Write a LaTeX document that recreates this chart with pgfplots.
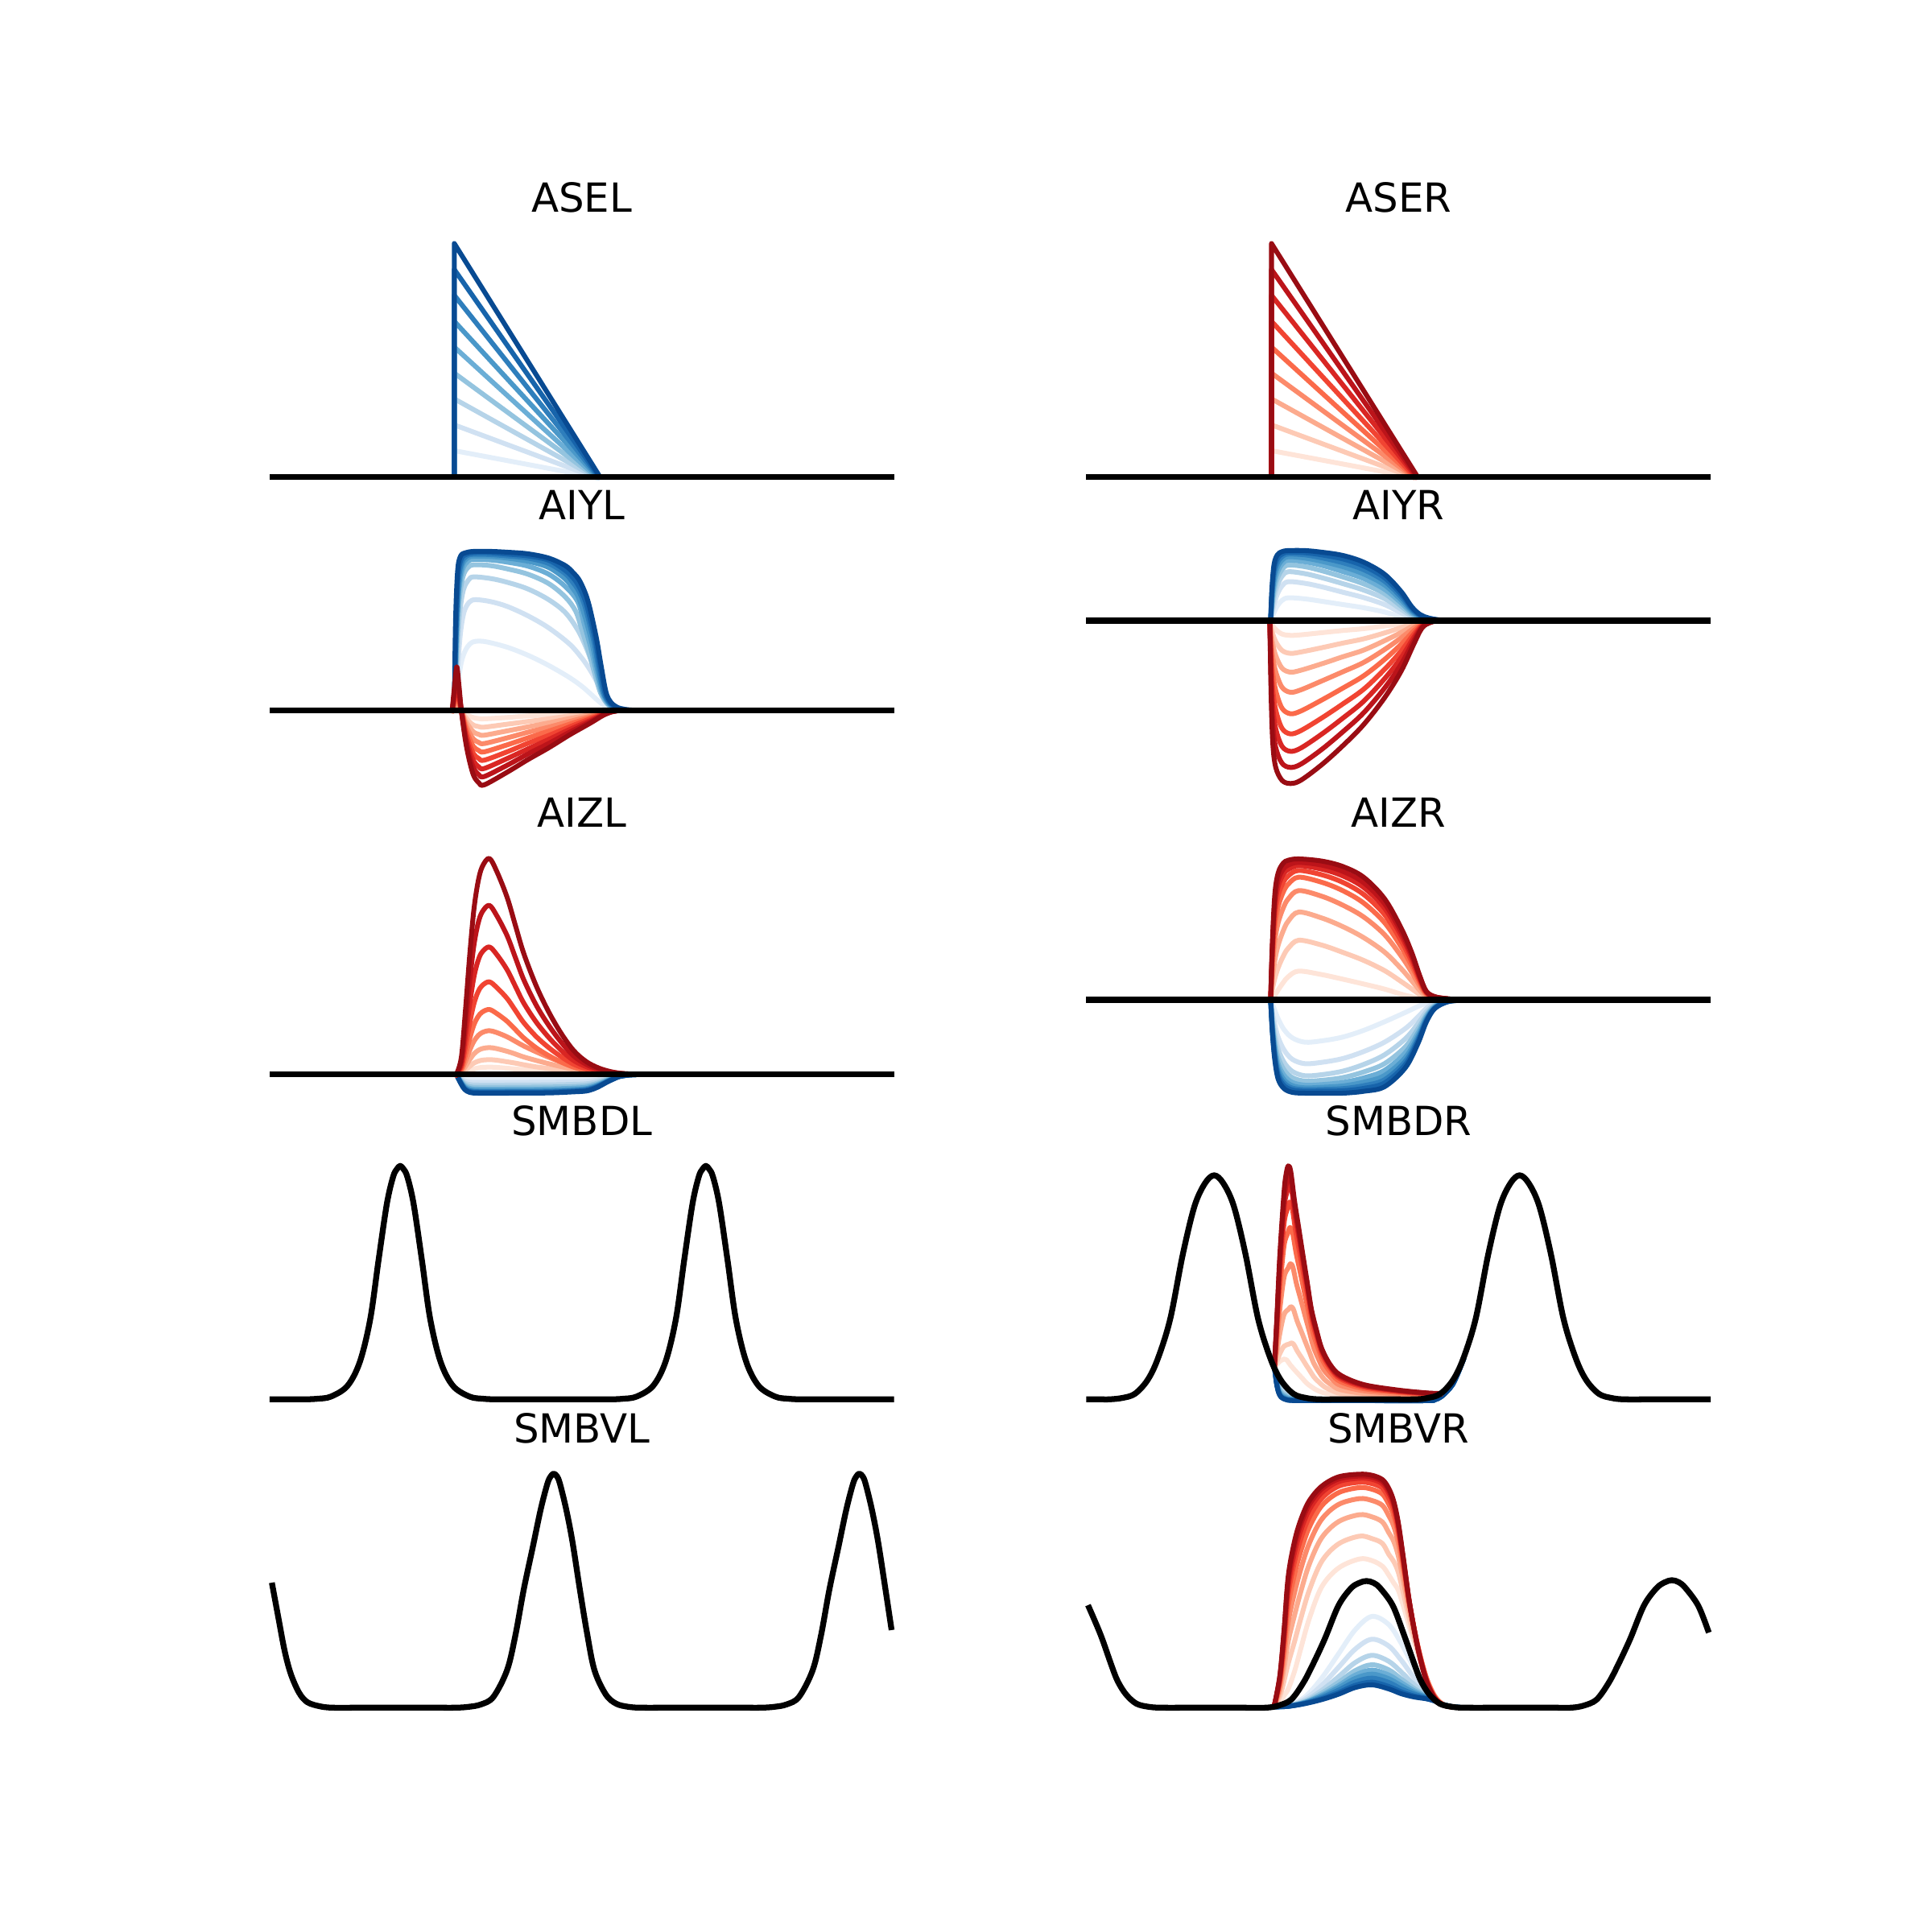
\documentclass[border=0pt]{standalone}
\usepackage{pgfplots}
\pgfplotsset{compat=1.18}
\usepackage{fontspec}
\setmainfont{DejaVu Sans}
\definecolor{B1}{RGB}{227,238,249}
\definecolor{B2}{RGB}{208,225,242}
\definecolor{B3}{RGB}{182,212,233}
\definecolor{B4}{RGB}{148,196,223}
\definecolor{B5}{RGB}{107,174,214}
\definecolor{B6}{RGB}{74,152,201}
\definecolor{B7}{RGB}{46,126,188}
\definecolor{B8}{RGB}{23,100,171}
\definecolor{B9}{RGB}{8,74,146}
\definecolor{R1}{RGB}{254,228,216}
\definecolor{R2}{RGB}{253,202,181}
\definecolor{R3}{RGB}{252,171,142}
\definecolor{R4}{RGB}{252,138,106}
\definecolor{R5}{RGB}{251,106,74}
\definecolor{R6}{RGB}{241,68,50}
\definecolor{R7}{RGB}{217,38,35}
\definecolor{R8}{RGB}{188,20,26}
\definecolor{R9}{RGB}{153,12,19}
\pgfplotsset{
  panel/.style={hide axis, scale only axis, width=203.67pt, height=76.76pt,
    anchor=south west, clip=false,
    title style={at={(0.5,1)}, anchor=base, inner sep=0pt,
      font=\fontsize{12}{14}\selectfont}},
  colL/.style={xmin=-38.7, xmax=1598},
  colR/.style={xmin=-29.7, xmax=1597},
  cl/.style={line width=1.45pt, line join=round, line cap=rect, smooth, tension=0.55},
  blk/.style={black, line width=1.75pt, line join=round, line cap=rect, smooth, tension=0.55},
}
\begin{document}
\begin{tikzpicture}
\path[use as bounding box] (0,0) rectangle (578.16pt,578.16pt);

%================ ASEL
\begin{axis}[panel,colL,at={(72.27pt,432.02pt)},ymin=-43.4,ymax=912.5,title={ASEL}]
\addplot[cl,sharp plot,B1] coordinates {(473,0)(473,97)(806,0)};
\addplot[cl,sharp plot,B2] coordinates {(473,0)(473,193)(808,0)};
\addplot[cl,sharp plot,B3] coordinates {(473,0)(473,290)(810,0)};
\addplot[cl,sharp plot,B4] coordinates {(473,0)(473,386)(812,0)};
\addplot[cl,sharp plot,B5] coordinates {(473,0)(473,483)(814,0)};
\addplot[cl,sharp plot,B6] coordinates {(473,0)(473,579)(817,0)};
\addplot[cl,sharp plot,B7] coordinates {(473,0)(473,676)(819,0)};
\addplot[cl,sharp plot,B8] coordinates {(473,0)(473,772)(821,0)};
\addplot[cl,sharp plot,B9] coordinates {(473,0)(473,869)(823,0)};
\addplot[cl,sharp plot,R9] coordinates {(35.6,0)(1523.6,0)};
\addplot[blk,sharp plot] coordinates {(35.6,0)(1523.6,0)};
\end{axis}

%================ ASER
\begin{axis}[panel,colR,at={(316.68pt,432.02pt)},ymin=-43.4,ymax=912.5,title={ASER}]
\addplot[cl,sharp plot,B9] coordinates {(44.2,0)(1522.9,0)};
\addplot[cl,sharp plot,R1] coordinates {(480,0)(480,97)(812,0)};
\addplot[cl,sharp plot,R2] coordinates {(480,0)(480,193)(814,0)};
\addplot[cl,sharp plot,R3] coordinates {(480,0)(480,290)(816,0)};
\addplot[cl,sharp plot,R4] coordinates {(480,0)(480,386)(818,0)};
\addplot[cl,sharp plot,R5] coordinates {(480,0)(480,483)(820,0)};
\addplot[cl,sharp plot,R6] coordinates {(480,0)(480,579)(822,0)};
\addplot[cl,sharp plot,R7] coordinates {(480,0)(480,676)(825,0)};
\addplot[cl,sharp plot,R8] coordinates {(480,0)(480,772)(827,0)};
\addplot[cl,sharp plot,R9] coordinates {(480,0)(480,869)(829,0)};
\addplot[blk,sharp plot] coordinates {(44.2,0)(1522.9,0)};
\end{axis}

%================ AIYL
\begin{axis}[panel,colL,at={(72.27pt,339.92pt)},ymin=-318.9,ymax=637,title={AIYL}]
\addplot[cl,B1] coordinates {(476,0)(482,100)(490,180)(500,225)(512,250)(525,258)(550,256)(600,236)(650,206)(700,168)(750,123)(780,90)(800,63)(820,35)(840,12)(858,2)(875,0)};
\addplot[cl,B2] coordinates {(476,0)(481,150)(488,290)(497,370)(510,405)(525,413)(560,406)(600,388)(650,353)(700,308)(750,248)(780,195)(800,150)(820,95)(835,50)(850,18)(866,4)(885,0)};
\addplot[cl,B3] coordinates {(475,0)(480,200)(486,360)(495,450)(508,488)(520,498)(560,492)(600,478)(650,453)(700,413)(740,365)(770,300)(790,235)(806,170)(820,110)(835,50)(850,18)(868,4)(890,0)};
\addplot[cl,B4] coordinates {(475,0)(479,230)(485,410)(494,500)(506,533)(520,543)(560,540)(600,528)(650,508)(700,473)(740,423)(765,370)(780,300)(796,220)(810,142)(825,65)(842,23)(860,6)(880,0)};
\addplot[cl,B5] coordinates {(474,0)(478,250)(484,440)(493,525)(505,555)(520,563)(560,561)(600,553)(650,538)(700,508)(740,462)(770,405)(786,320)(801,235)(814,150)(828,66)(843,25)(860,8)(880,1)(900,0)};
\addplot[cl,B6] coordinates {(474,0)(478,270)(484,460)(492,540)(504,568)(520,575)(560,574)(600,568)(650,556)(700,533)(740,490)(758,455)(772,420)(790,335)(805,245)(817,155)(830,68)(845,26)(860,9)(880,2)(900,0)};
\addplot[cl,B7] coordinates {(473,0)(477,280)(483,480)(491,552)(503,576)(520,582)(560,581)(600,576)(650,568)(700,548)(740,510)(758,478)(770,452)(780,420)(787,390)(794,350)(809,255)(820,160)(832,68)(846,27)(862,10)(885,2)(905,0)};
\addplot[cl,B8] coordinates {(473,0)(477,300)(482,500)(490,565)(502,582)(520,588)(560,588)(600,583)(650,576)(700,560)(740,522)(760,492)(770,470)(780,440)(789,405)(797,360)(812,262)(823,165)(835,68)(848,28)(863,11)(885,3)(910,0)};
\addplot[cl,B9] coordinates {(473,0)(476,330)(481,520)(488,575)(500,588)(520,593)(560,593)(600,590)(650,584)(700,568)(740,540)(760,512)(772,490)(782,460)(791,425)(800,375)(815,268)(826,168)(838,68)(850,30)(865,12)(885,4)(910,1)(940,0)};
\addplot[cl,R1] coordinates {(468,0)(474,2)(479,3)(484,2)(490,0)(500,-13)(510,-21)(520,-27)(532,-30)(545,-31)(600,-26)(650,-20)(700,-16)(750,-10)(800,-5)(830,-2)(850,-1)(870,0)};
\addplot[cl,R2] coordinates {(468,0)(474,6)(479,10)(484,6)(490,0)(500,-25)(510,-43)(520,-55)(532,-60)(545,-62)(600,-51)(650,-41)(700,-31)(750,-20)(800,-11)(830,-4)(850,-1)(870,0)};
\addplot[cl,R3] coordinates {(468,0)(474,13)(479,22)(484,13)(490,0)(500,-38)(510,-63)(520,-81)(532,-89)(545,-92)(600,-76)(650,-61)(700,-46)(750,-30)(800,-16)(830,-6)(850,-2)(870,0)};
\addplot[cl,R4] coordinates {(468,0)(474,23)(479,38)(484,23)(490,0)(500,-50)(510,-85)(520,-108)(532,-119)(545,-123)(600,-102)(650,-81)(700,-62)(750,-41)(800,-21)(830,-9)(850,-2)(870,0)};
\addplot[cl,R5] coordinates {(468,0)(474,33)(479,55)(484,33)(490,0)(500,-63)(510,-106)(520,-136)(532,-149)(545,-154)(600,-128)(650,-102)(700,-77)(750,-51)(800,-26)(830,-11)(850,-3)(870,0)};
\addplot[cl,R6] coordinates {(468,0)(474,45)(479,75)(484,45)(490,0)(500,-76)(510,-128)(520,-163)(532,-179)(545,-185)(600,-154)(650,-122)(700,-93)(750,-61)(800,-31)(830,-13)(850,-4)(870,0)};
\addplot[cl,R7] coordinates {(468,0)(474,60)(479,100)(484,60)(490,0)(500,-89)(510,-149)(520,-190)(532,-210)(545,-216)(600,-179)(650,-143)(700,-108)(750,-71)(800,-37)(830,-15)(850,-4)(870,0)};
\addplot[cl,R8] coordinates {(468,0)(474,78)(479,130)(484,78)(490,0)(500,-101)(510,-170)(520,-216)(532,-239)(545,-246)(600,-204)(650,-162)(700,-123)(750,-81)(800,-42)(830,-17)(850,-5)(870,0)};
\addplot[cl,R9] coordinates {(468,0)(474,98)(479,163)(484,98)(490,0)(500,-114)(510,-191)(520,-244)(532,-269)(545,-277)(600,-230)(650,-183)(700,-139)(750,-91)(800,-47)(830,-19)(850,-6)(870,0)};
\addplot[blk,sharp plot] coordinates {(35.6,0)(1523.6,0)};
\end{axis}

%================ AIYR
\begin{axis}[panel,colR,at={(316.68pt,339.92pt)},ymin=-653.9,ymax=302,title={AIYR}]
\addplot[cl,B1] coordinates {(478,0)(481,10)(486,30)(494,55)(505,75)(520,85)(560,81)(600,72)(650,60)(700,48)(750,32)(790,14)(815,5)(835,2)(855,0)};
\addplot[cl,B2] coordinates {(478,0)(481,24)(486,59)(494,99)(505,129)(520,145)(560,139)(600,126)(650,106)(700,86)(750,60)(790,29)(815,11)(835,4)(855,1)(880,0)};
\addplot[cl,B3] coordinates {(478,0)(481,37)(486,84)(494,131)(505,165)(520,182)(560,175)(600,160)(650,138)(700,114)(750,82)(790,42)(815,17)(835,7)(855,3)(880,0)};
\addplot[cl,B4] coordinates {(478,0)(481,51)(486,107)(494,157)(505,190)(520,207)(560,201)(600,186)(650,163)(700,137)(750,101)(790,54)(815,23)(835,9)(855,4)(880,1)(910,0)};
\addplot[cl,B5] coordinates {(478,0)(481,65)(486,129)(494,179)(505,210)(520,225)(560,219)(600,206)(650,183)(700,157)(750,117)(790,66)(815,29)(835,12)(855,5)(880,1)(910,0)};
\addplot[cl,B6] coordinates {(478,0)(481,79)(486,150)(494,198)(505,225)(520,238)(560,233)(600,221)(650,201)(700,174)(750,133)(790,77)(815,35)(835,15)(855,6)(880,1)(910,0)};
\addplot[cl,B7] coordinates {(478,0)(481,93)(486,171)(494,215)(505,238)(520,248)(560,245)(600,234)(650,216)(700,190)(750,147)(790,88)(815,41)(835,18)(855,8)(880,2)(910,0)};
\addplot[cl,B8] coordinates {(478,0)(481,106)(486,190)(494,231)(505,248)(520,255)(560,253)(600,245)(650,230)(700,204)(750,160)(790,98)(815,47)(835,20)(855,9)(880,2)(910,0)};
\addplot[cl,B9] coordinates {(478,0)(481,120)(486,209)(494,245)(505,257)(520,261)(560,261)(600,255)(650,243)(700,218)(750,173)(790,108)(815,52)(835,23)(855,10)(880,3)(910,0)};
\addplot[cl,R1] coordinates {(476,0)(479,-8)(483,-19)(490,-33)(505,-50)(525,-55)(550,-53)(600,-45)(650,-37)(700,-30)(750,-20)(790,-11)(820,-4)(840,-2)(860,0)};
\addplot[cl,R2] coordinates {(476,0)(479,-23)(483,-49)(490,-78)(505,-111)(525,-122)(550,-117)(600,-101)(650,-84)(700,-68)(750,-46)(790,-26)(820,-11)(840,-4)(860,-1)(880,0)};
\addplot[cl,R3] coordinates {(476,0)(479,-43)(483,-86)(490,-130)(505,-177)(525,-192)(550,-185)(600,-161)(650,-135)(700,-110)(750,-75)(790,-44)(820,-18)(840,-7)(860,-2)(880,0)};
\addplot[cl,R4] coordinates {(476,0)(479,-70)(483,-134)(490,-190)(505,-248)(525,-267)(550,-258)(600,-225)(650,-191)(700,-156)(750,-108)(790,-64)(820,-28)(840,-10)(860,-3)(880,0)};
\addplot[cl,R5] coordinates {(476,0)(479,-104)(483,-191)(490,-260)(505,-326)(525,-347)(550,-337)(600,-296)(650,-252)(700,-206)(750,-145)(790,-88)(820,-39)(840,-13)(860,-3)(880,0)};
\addplot[cl,R6] coordinates {(476,0)(479,-142)(483,-253)(490,-332)(505,-401)(525,-422)(550,-410)(600,-363)(650,-311)(700,-256)(750,-182)(790,-113)(820,-51)(840,-17)(860,-4)(880,0)};
\addplot[cl,R7] coordinates {(476,0)(479,-183)(483,-317)(490,-402)(505,-468)(525,-487)(550,-475)(600,-423)(650,-364)(700,-301)(750,-217)(790,-138)(820,-63)(840,-20)(860,-5)(880,0)};
\addplot[cl,R8] coordinates {(476,0)(479,-226)(483,-383)(490,-472)(505,-531)(525,-547)(550,-535)(600,-480)(650,-415)(700,-344)(750,-252)(790,-162)(820,-75)(840,-24)(860,-6)(880,0)};
\addplot[cl,R9] coordinates {(476,0)(479,-273)(483,-455)(490,-546)(505,-595)(525,-607)(550,-595)(600,-537)(650,-467)(700,-388)(750,-288)(790,-188)(820,-88)(840,-27)(860,-7)(880,0)};
\addplot[blk,sharp plot] coordinates {(44.2,0)(1522.9,0)};
\end{axis}

%================ AIZL
\begin{axis}[panel,colL,at={(72.27pt,247.81pt)},ymin=-109.9,ymax=846,title={AIZL}]
\addplot[cl,B1] coordinates {(478,0)(488,-8)(498,-14)(510,-16)(530,-17)(600,-17)(700,-17)(760,-16)(790,-15)(810,-13)(825,-10)(840,-7)(855,-4)(870,-2)(890,-1)(910,0)};
\addplot[cl,B2] coordinates {(478,0)(488,-14)(498,-24)(510,-29)(530,-30)(600,-30)(700,-29)(760,-28)(790,-26)(810,-23)(825,-18)(840,-13)(855,-8)(870,-4)(890,-1)(910,0)};
\addplot[cl,B3] coordinates {(478,0)(488,-18)(498,-32)(510,-38)(530,-40)(600,-40)(700,-39)(760,-37)(790,-35)(810,-30)(825,-24)(840,-17)(855,-10)(870,-5)(890,-2)(910,0)};
\addplot[cl,B4] coordinates {(478,0)(488,-22)(498,-38)(510,-46)(530,-48)(600,-48)(700,-47)(760,-45)(790,-42)(810,-36)(825,-29)(840,-20)(855,-12)(870,-6)(890,-2)(910,0)};
\addplot[cl,B5] coordinates {(478,0)(488,-25)(498,-44)(510,-52)(530,-55)(600,-55)(700,-54)(760,-51)(790,-48)(810,-41)(825,-33)(840,-23)(855,-14)(870,-7)(890,-2)(910,-1)(930,0)};
\addplot[cl,B6] coordinates {(478,0)(488,-27)(498,-48)(510,-57)(530,-60)(600,-60)(700,-59)(760,-56)(790,-53)(810,-45)(825,-36)(840,-25)(855,-15)(870,-7)(890,-2)(910,-1)(930,0)};
\addplot[cl,B7] coordinates {(478,0)(488,-29)(498,-51)(510,-61)(530,-64)(600,-64)(700,-63)(760,-60)(790,-56)(810,-48)(825,-38)(840,-27)(855,-16)(870,-8)(890,-3)(910,-1)(930,0)};
\addplot[cl,B8] coordinates {(478,0)(488,-30)(498,-54)(510,-64)(530,-67)(600,-67)(700,-66)(760,-62)(790,-59)(810,-50)(825,-40)(840,-28)(855,-17)(870,-8)(890,-3)(910,-1)(930,0)};
\addplot[cl,B9] coordinates {(478,0)(488,-32)(498,-56)(510,-67)(530,-70)(600,-70)(700,-69)(760,-65)(790,-62)(810,-53)(825,-42)(840,-29)(855,-18)(870,-8)(890,-3)(910,-1)(930,0)};
\addplot[cl,R1] coordinates {(478,0)(490,2)(500,8)(510,15)(520,20)(530,24)(540,26)(557,27)(575,26)(600,23)(620,20)(640,18)(670,14)(700,11)(730,8)(760,5)(790,3)(820,2)(850,1)(880,0)};
\addplot[cl,R2] coordinates {(478,0)(490,5)(500,17)(510,30)(520,42)(530,49)(540,53)(557,55)(575,53)(600,47)(620,42)(640,36)(670,28)(700,22)(730,16)(760,10)(790,6)(820,3)(850,1)(880,0)};
\addplot[cl,R3] coordinates {(478,0)(490,9)(500,30)(510,55)(520,76)(530,89)(540,96)(557,100)(575,96)(600,86)(620,76)(640,65)(670,52)(700,40)(730,29)(760,19)(790,12)(820,6)(850,3)(880,1)(920,0)};
\addplot[cl,R4] coordinates {(478,0)(490,15)(500,49)(510,90)(520,123)(530,144)(540,156)(557,163)(575,156)(600,140)(620,123)(640,106)(670,84)(700,64)(730,46)(760,31)(790,19)(820,10)(850,4)(880,1)(920,0)};
\addplot[cl,R5] coordinates {(478,0)(490,19)(500,73)(510,133)(520,184)(530,215)(540,232)(557,242)(575,227)(600,198)(620,167)(640,136)(670,99)(700,70)(730,46)(760,27)(790,15)(820,7)(850,3)(880,1)(920,0)};
\addplot[cl,R6] coordinates {(478,0)(490,28)(500,104)(510,190)(520,262)(530,307)(540,331)(557,345)(575,324)(600,283)(620,238)(640,193)(670,141)(700,100)(730,66)(760,38)(790,21)(820,10)(850,4)(880,1)(920,0)};
\addplot[cl,R7] coordinates {(478,0)(490,38)(500,143)(510,261)(520,361)(530,423)(540,456)(557,475)(575,447)(600,390)(620,328)(640,266)(670,195)(700,138)(730,90)(760,52)(790,29)(820,14)(850,6)(880,2)(920,0)};
\addplot[cl,R8] coordinates {(478,0)(490,50)(500,189)(510,347)(520,479)(530,561)(540,605)(557,630)(575,592)(600,517)(620,435)(640,353)(670,258)(700,183)(730,120)(760,69)(790,38)(820,19)(850,8)(880,3)(920,0)};
\addplot[cl,R9] coordinates {(478,0)(490,64)(500,242)(510,443)(520,612)(530,716)(540,773)(557,805)(575,757)(600,660)(620,555)(640,451)(670,330)(700,233)(730,153)(760,89)(790,48)(820,24)(850,10)(880,3)(920,0)};
\addplot[blk,sharp plot] coordinates {(35.6,0)(1523.6,0)};
\end{axis}

%================ AIZR
\begin{axis}[panel,colR,at={(316.68pt,247.81pt)},ymin=-387.9,ymax=568,title={AIZR}]
\addplot[cl,B1] coordinates {(478,0)(482,-16)(488,-40)(496,-71)(510,-111)(530,-142)(560,-158)(600,-153)(650,-139)(700,-114)(750,-82)(800,-47)(830,-25)(850,-13)(870,-5)(900,0)};
\addplot[cl,B2] coordinates {(478,0)(482,-45)(488,-93)(496,-140)(510,-187)(530,-222)(560,-238)(600,-233)(650,-219)(700,-193)(750,-158)(800,-107)(830,-64)(850,-32)(870,-13)(900,-2)(930,0)};
\addplot[cl,B3] coordinates {(478,0)(482,-64)(488,-127)(496,-184)(510,-233)(530,-267)(560,-283)(600,-279)(650,-266)(700,-241)(750,-205)(800,-145)(830,-89)(850,-45)(870,-18)(900,-3)(930,-1)(960,0)};
\addplot[cl,B4] coordinates {(478,0)(482,-80)(488,-155)(496,-215)(510,-261)(530,-290)(560,-303)(600,-300)(650,-290)(700,-269)(750,-238)(800,-175)(830,-109)(850,-56)(870,-22)(900,-5)(930,-1)(960,0)};
\addplot[cl,B5] coordinates {(478,0)(482,-91)(488,-175)(496,-239)(510,-282)(530,-308)(560,-318)(600,-316)(650,-308)(700,-291)(750,-263)(800,-197)(830,-124)(850,-63)(870,-25)(900,-5)(930,-1)(960,0)};
\addplot[cl,B6] coordinates {(478,0)(482,-101)(488,-191)(496,-256)(510,-298)(530,-320)(560,-328)(600,-326)(650,-321)(700,-307)(750,-282)(800,-215)(830,-136)(850,-70)(870,-28)(900,-6)(930,-1)(960,0)};
\addplot[cl,B7] coordinates {(478,0)(482,-109)(488,-204)(496,-271)(510,-310)(530,-329)(560,-335)(600,-334)(650,-331)(700,-320)(750,-298)(800,-229)(830,-146)(850,-75)(870,-30)(900,-7)(930,-2)(960,0)};
\addplot[cl,B8] coordinates {(478,0)(482,-115)(488,-215)(496,-283)(510,-320)(530,-336)(560,-341)(600,-340)(650,-339)(700,-330)(750,-310)(800,-241)(830,-154)(850,-79)(870,-31)(900,-7)(930,-2)(960,0)};
\addplot[cl,B9] coordinates {(478,0)(482,-122)(488,-226)(496,-296)(510,-331)(530,-345)(560,-348)(600,-348)(650,-348)(700,-341)(750,-324)(800,-253)(830,-163)(850,-83)(870,-33)(900,-8)(930,-2)(960,0)};
\addplot[cl,R1] coordinates {(478,0)(482,5)(488,16)(496,37)(508,64)(520,86)(545,107)(600,94)(650,77)(700,59)(750,40)(790,21)(815,11)(835,5)(850,2)(870,0)};
\addplot[cl,R2] coordinates {(478,0)(482,38)(488,80)(496,120)(508,162)(520,192)(545,222)(600,204)(650,177)(700,147)(750,109)(790,68)(815,41)(835,19)(850,7)(870,2)(900,1)(930,0)};
\addplot[cl,R3] coordinates {(478,0)(482,74)(488,147)(496,204)(508,257)(520,293)(545,327)(600,305)(650,273)(700,232)(750,178)(790,116)(815,71)(835,34)(850,13)(870,4)(900,1)(930,0)};
\addplot[cl,R4] coordinates {(478,0)(482,113)(488,220)(496,288)(508,342)(520,376)(545,407)(600,386)(650,353)(700,309)(750,243)(790,163)(815,103)(835,50)(850,19)(870,6)(900,2)(930,0)};
\addplot[cl,R5] coordinates {(478,0)(482,143)(488,274)(496,348)(508,401)(520,431)(545,457)(600,438)(650,407)(700,361)(750,288)(790,197)(815,127)(835,62)(850,23)(870,8)(900,3)(930,0)};
\addplot[cl,R6] coordinates {(478,0)(482,164)(488,312)(496,389)(508,437)(520,462)(545,482)(600,466)(650,438)(700,393)(750,318)(790,220)(815,143)(835,70)(850,26)(870,9)(900,3)(930,0)};
\addplot[cl,R7] coordinates {(478,0)(482,183)(488,345)(496,423)(508,467)(520,486)(545,500)(600,487)(650,462)(700,419)(750,342)(790,239)(815,157)(835,77)(850,28)(870,10)(900,4)(930,0)};
\addplot[cl,R8] coordinates {(478,0)(482,196)(488,369)(496,447)(508,487)(520,502)(545,512)(600,502)(650,479)(700,437)(750,359)(790,253)(815,167)(835,82)(850,30)(870,11)(900,4)(930,0)};
\addplot[cl,R9] coordinates {(478,0)(482,210)(488,394)(496,473)(508,509)(520,520)(545,525)(600,517)(650,497)(700,457)(750,377)(790,267)(815,177)(835,87)(850,32)(870,12)(900,4)(930,0)};
\addplot[blk,sharp plot] coordinates {(44.2,0)(1522.9,0)};
\end{axis}

%================ SMBDL
\begin{axis}[panel,colL,at={(72.27pt,155.71pt)},ymin=-46,ymax=910,title={SMBDL}]
\addplot[cl,R9] coordinates {(35.6,0)(80,0)(113,0)(143,2)(176,10)(216,50)(246,140)(271,300)(291,520)(311,730)(326,830)(335,858)(343,870)(351,858)(360,830)(375,730)(395,520)(415,300)(440,140)(470,50)(510,10)(543,2)(573,0)(620,0)(700,0)(800,0)(848,0)(878,2)(911,10)(951,50)(981,140)(1006,300)(1026,520)(1046,730)(1061,830)(1070,858)(1078,870)(1086,858)(1095,830)(1110,730)(1130,520)(1150,300)(1175,140)(1205,50)(1245,10)(1278,2)(1308,0)(1360,0)(1450,0)(1523.6,0)};
\addplot[blk] coordinates {(35.6,0)(80,0)(113,0)(143,2)(176,10)(216,50)(246,140)(271,300)(291,520)(311,730)(326,830)(335,858)(343,870)(351,858)(360,830)(375,730)(395,520)(415,300)(440,140)(470,50)(510,10)(543,2)(573,0)(620,0)(700,0)(800,0)(848,0)(878,2)(911,10)(951,50)(981,140)(1006,300)(1026,520)(1046,730)(1061,830)(1070,858)(1078,870)(1086,858)(1095,830)(1110,730)(1130,520)(1150,300)(1175,140)(1205,50)(1245,10)(1278,2)(1308,0)(1360,0)(1450,0)(1523.6,0)};
\end{axis}

%================ SMBDR
\begin{axis}[panel,colR,at={(316.68pt,155.71pt)},ymin=-46,ymax=910,title={SMBDR}]
\addplot[cl,B1] coordinates {(487,121)(492,96)(497,76)(503,57)(512,43)(525,25)(560,4)(700,-1)(850,2)(870,8)(885,18)(900,38)(913,64)(925,102)(938,148)};
\addplot[cl,B2] coordinates {(487,121)(492,87)(497,64)(503,46)(512,33)(525,18)(560,2)(700,-2)(850,0)(870,5)(885,15)(900,36)(913,61)(925,100)(938,147)};
\addplot[cl,B3] coordinates {(487,121)(492,80)(497,53)(503,36)(512,24)(525,12)(560,0)(700,-3)(850,-1)(870,3)(885,13)(900,35)(913,59)(925,98)(938,146)};
\addplot[cl,B4] coordinates {(487,121)(492,74)(497,45)(503,27)(512,17)(525,7)(560,-1)(700,-3)(850,-2)(870,1)(885,12)(900,34)(913,58)(925,97)(938,146)};
\addplot[cl,B5] coordinates {(487,121)(492,69)(497,38)(503,20)(512,11)(525,3)(560,-3)(700,-4)(850,-3)(870,0)(885,11)(900,33)(913,57)(925,96)(938,145)};
\addplot[cl,B6] coordinates {(487,121)(492,65)(497,32)(503,15)(512,6)(525,0)(560,-4)(700,-4)(850,-4)(870,-1)(885,10)(900,32)(913,56)(925,95)(938,145)};
\addplot[cl,B7] coordinates {(487,121)(492,62)(497,28)(503,11)(512,3)(525,-2)(560,-4)(700,-5)(850,-5)(870,-2)(885,9)(900,31)(913,55)(925,95)(938,145)};
\addplot[cl,B8] coordinates {(487,121)(492,60)(497,26)(503,9)(512,1)(525,-4)(560,-5)(700,-5)(850,-5)(870,-2)(885,9)(900,31)(913,55)(925,95)(938,145)};
\addplot[cl,B9] coordinates {(487,121)(492,60)(497,25)(503,8)(512,0)(525,-4)(560,-5)(700,-5)(850,-5)(870,-2)(885,9)(900,30)(913,55)(925,94)(938,145)};
\addplot[cl,R1] coordinates {(487,121)(493,130)(500,142)(510,150)(516,147)(525,128)(535,110)(545,93)(555,76)(565,59)(578,44)(590,33)(610,22)(645,15)(700,9)(780,6)(850,4)(883,20)};
\addplot[cl,R2] coordinates {(487,121)(493,143)(500,171)(510,198)(522,206)(527,210)(533,205)(542,179)(552,155)(562,130)(572,106)(582,82)(595,62)(607,46)(627,31)(645,22)(700,13)(780,8)(850,6)(883,20)};
\addplot[cl,R3] coordinates {(487,121)(493,177)(500,246)(510,316)(521,336)(526,345)(532,337)(541,293)(551,254)(561,214)(571,175)(581,135)(594,101)(606,75)(626,51)(645,36)(700,22)(780,14)(850,10)(883,20)};
\addplot[cl,R4] coordinates {(487,121)(493,217)(500,336)(510,455)(520,490)(525,505)(531,493)(540,429)(550,372)(560,313)(570,256)(580,197)(593,148)(605,110)(625,75)(645,52)(700,32)(780,20)(850,14)(883,20)};
\addplot[cl,R5] coordinates {(487,121)(493,251)(500,412)(510,573)(519,619)(524,640)(530,625)(539,544)(549,471)(559,397)(569,324)(579,250)(592,188)(604,140)(624,95)(645,66)(700,40)(780,26)(850,18)(883,20)};
\addplot[cl,R6] coordinates {(487,121)(493,275)(500,465)(510,655)(518,710)(523,735)(529,718)(538,625)(548,541)(558,456)(568,372)(578,287)(591,215)(603,160)(623,110)(645,76)(700,46)(780,29)(850,21)(883,20)};
\addplot[cl,R7] coordinates {(487,121)(493,291)(500,501)(510,712)(517,773)(522,800)(528,782)(537,680)(547,589)(557,496)(567,405)(577,312)(590,234)(602,174)(622,119)(645,82)(700,50)(780,32)(850,22)(883,21)};
\addplot[cl,R8] coordinates {(487,121)(493,300)(500,521)(510,742)(516,806)(521,835)(527,816)(536,710)(546,615)(556,518)(566,423)(576,326)(589,245)(601,182)(621,124)(645,86)(700,53)(780,33)(850,23)(883,21)};
\addplot[cl,R9] coordinates {(487,121)(493,308)(500,540)(510,773)(515,840)(520,870)(526,850)(535,740)(545,640)(555,539)(565,440)(575,339)(588,255)(600,190)(620,130)(645,90)(700,55)(780,35)(850,24)(883,22)};
\addplot[blk] coordinates {(44.2,0)(70,0)(93,0)(123,5)(153,20)(183,70)(208,150)(238,300)(268,540)(296,720)(321,805)(343,835)(365,805)(390,720)(418,540)(448,300)(478,150)(503,70)(533,20)(563,5)(593,0)(650,0)(750,0)(823,0)(853,5)(883,20)(913,70)(938,150)(968,300)(998,540)(1026,720)(1051,805)(1073,835)(1095,805)(1120,720)(1148,540)(1178,300)(1208,150)(1233,70)(1263,20)(1293,5)(1323,0)(1400,0)(1522.9,0)};
\end{axis}

%================ SMBVL
\begin{axis}[panel,colL,at={(72.27pt,63.60pt)},ymin=-44,ymax=911.9,title={SMBVL}]
\addplot[blk] coordinates {(35.6,455)(50,335)(65,212)(80,125)(100,55)(120,20)(150,5)(180,0)(250,0)(350,0)(420,0)(477,0)(507,3)(537,12)(567,40)(600,140)(620,270)(640,440)(662,600)(681,740)(697,835)(705,862)(712,872)(720,862)(727,835)(742,740)(757,620)(775,440)(792,280)(810,140)(837,50)(862,15)(892,3)(922,0)(1000,0)(1100,0)(1160,0)(1212,0)(1242,3)(1272,12)(1302,40)(1335,140)(1355,270)(1375,440)(1397,600)(1416,740)(1432,835)(1440,862)(1447,872)(1455,862)(1462,835)(1477,740)(1492,620)(1510,440)(1523.6,300)};
\end{axis}

%================ SMBVR
\begin{axis}[panel,colR,at={(316.68pt,63.60pt)},ymin=-44,ymax=911.9,title={SMBVR}]
\addplot[cl,B1] coordinates {(487,5)(520,10)(560,40)(600,110)(640,200)(680,290)(720,340)(760,310)(790,240)(820,150)(850,70)(870,35)(890,12)(910,4)(930,1)};
\addplot[cl,B2] coordinates {(487,4)(520,8)(560,32)(600,83)(640,150)(680,218)(720,255)(760,230)(790,177)(820,113)(850,58)(870,32)(890,12)(910,4)(930,1)};
\addplot[cl,B3] coordinates {(487,4)(520,7)(560,26)(600,64)(640,115)(680,168)(720,195)(760,173)(790,133)(820,87)(850,49)(870,29)(890,12)(910,4)(930,1)};
\addplot[cl,B4] coordinates {(487,4)(520,6)(560,22)(600,54)(640,94)(680,138)(720,160)(760,141)(790,107)(820,72)(850,44)(870,28)(890,12)(910,4)(930,1)};
\addplot[cl,B5] coordinates {(487,3)(520,6)(560,20)(600,47)(640,82)(680,121)(720,140)(760,122)(790,93)(820,64)(850,41)(870,27)(890,12)(910,4)(930,1)};
\addplot[cl,B6] coordinates {(487,3)(520,6)(560,19)(600,43)(640,74)(680,109)(720,125)(760,108)(790,82)(820,57)(850,39)(870,27)(890,12)(910,4)(930,1)};
\addplot[cl,B7] coordinates {(487,3)(520,5)(560,17)(600,38)(640,65)(680,96)(720,110)(760,94)(790,70)(820,51)(850,37)(870,26)(890,12)(910,4)(930,1)};
\addplot[cl,B8] coordinates {(487,3)(520,5)(560,16)(600,33)(640,56)(680,83)(720,95)(760,79)(790,59)(820,44)(850,34)(870,25)(890,12)(910,4)(930,1)};
\addplot[cl,B9] coordinates {(487,3)(520,5)(560,15)(600,30)(640,50)(680,75)(720,85)(760,70)(790,52)(820,40)(850,33)(870,25)(890,12)(910,4)(930,1)};
\addplot[cl,R1] coordinates {(487,5)(500,20)(510,45)(520,70)(535,135)(550,220)(570,330)(600,450)(640,520)(690,554)(720,548)(745,527)(760,495)(772,465)(783,438)(795,380)(810,300)(830,200)(850,110)(870,45)(890,12)(910,2)};
\addplot[cl,R2] coordinates {(487,6)(500,43)(510,100)(520,165)(535,246)(550,332)(570,436)(600,545)(640,610)(690,639)(720,630)(745,612)(760,572)(772,545)(783,505)(795,428)(810,328)(830,210)(850,111)(870,44)(890,12)(910,2)};
\addplot[cl,R3] coordinates {(487,7)(500,63)(510,149)(520,248)(535,344)(550,432)(570,533)(600,633)(640,693)(690,719)(720,711)(745,692)(760,653)(772,620)(783,566)(795,474)(810,356)(830,221)(850,113)(870,44)(890,12)(910,3)};
\addplot[cl,R4] coordinates {(487,8)(500,80)(510,191)(520,320)(535,428)(550,516)(570,611)(600,702)(640,757)(690,779)(720,772)(745,754)(760,716)(772,677)(783,614)(795,510)(810,375)(830,227)(850,112)(870,42)(890,12)(910,3)};
\addplot[cl,R5] coordinates {(487,9)(500,94)(510,226)(520,379)(535,496)(550,583)(570,671)(600,752)(640,801)(690,820)(720,814)(745,796)(760,759)(772,717)(783,647)(795,533)(810,385)(830,228)(850,110)(870,41)(890,11)(910,3)};
\addplot[cl,R6] coordinates {(487,9)(500,104)(510,250)(520,422)(535,544)(550,628)(570,709)(600,780)(640,825)(690,840)(720,835)(745,818)(760,782)(772,738)(783,663)(795,544)(810,387)(830,225)(850,106)(870,38)(890,11)(910,3)};
\addplot[cl,R7] coordinates {(487,9)(500,111)(510,267)(520,451)(535,577)(550,660)(570,737)(600,801)(640,842)(690,855)(720,851)(745,834)(760,800)(772,755)(783,677)(795,552)(810,389)(830,224)(850,104)(870,37)(890,10)(910,3)};
\addplot[cl,R8] coordinates {(487,9)(500,116)(510,281)(520,475)(535,603)(550,684)(570,756)(600,815)(640,852)(690,863)(720,859)(745,843)(760,810)(772,763)(783,684)(795,556)(810,389)(830,221)(850,101)(870,36)(890,10)(910,3)};
\addplot[cl,R9] coordinates {(487,10)(500,120)(510,290)(520,490)(535,620)(550,700)(570,770)(600,825)(640,860)(690,870)(720,866)(745,850)(760,818)(772,770)(783,690)(795,560)(810,390)(830,220)(850,100)(870,35)(890,10)(910,3)};
\addplot[blk] coordinates {(44.2,372)(72,270)(97,160)(112,100)(132,50)(157,15)(187,3)(217,0)(300,0)(400,0)(467,0)(497,8)(527,30)(555,90)(577,155)(607,255)(640,380)(670,445)(690,465)(707,472)(724,465)(740,445)(770,380)(797,270)(822,160)(837,100)(857,50)(882,15)(912,3)(942,0)(1050,0)(1150,0)(1197,0)(1227,8)(1257,30)(1285,90)(1307,155)(1337,255)(1370,380)(1400,445)(1420,467)(1437,475)(1454,467)(1470,445)(1500,380)(1522.9,290)};
\end{axis}
\end{tikzpicture}
\end{document}
